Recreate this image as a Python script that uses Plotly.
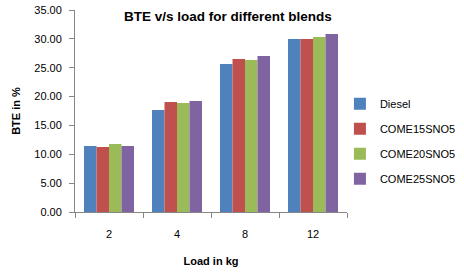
import plotly.graph_objects as go

categories = ["2", "4", "8", "12"]
diesel = [11.44, 17.68, 25.65, 29.98]
come15 = [11.27, 19.06, 26.52, 29.98]
come20 = [11.79, 18.89, 26.34, 30.33]
come25 = [11.44, 19.24, 27.04, 30.85]
series_names = ["Diesel", "COME15SNO5", "COME20SNO5", "COME25SNO5"]
colors = ["#4F81BD", "#C0504D", "#9BBB59", "#8064A2"]

fig = go.Figure()
for i, (name, vals) in enumerate(zip(series_names, [diesel, come15, come20, come25])):
    fig.add_trace(go.Bar(x=categories, y=vals, name=name, marker_color=colors[i],
                         marker_line_width=0, legendgroup=str(i)))

font = "Liberation Sans, Arial, sans-serif"
fig.update_layout(
    width=464, height=273,
    margin=dict(l=75, r=117, t=10, b=61, autoexpand=False),
    paper_bgcolor="white", plot_bgcolor="white",
    barmode="group", bargap=0.265, bargroupgap=0,
    font=dict(family=font, size=11, color="#000000"),
    title=dict(text="<b>BTE v/s load for different blends</b>", x=0.491, xanchor="center",
               y=0.941, yanchor="middle", font=dict(size=13.5, family=font, color="#000000")),
    showlegend=True,
    legend=dict(x=0.974, xref="paper", xanchor="left", y=0.350, yanchor="middle",
                font=dict(size=11, family=font), tracegroupgap=6,
                itemwidth=30, bgcolor="rgba(0,0,0,0)"),
    xaxis=dict(type="category", showline=True, linecolor="#868686", linewidth=1,
               ticks="outside", ticklen=5, tickcolor="#868686", tickson="boundaries",
               showgrid=False, zeroline=False, automargin=False, ticklabelstandoff=12,
               title=dict(text="<b>Load in kg</b>", font=dict(size=11), standoff=18),
               tickfont=dict(size=11)),
    yaxis=dict(range=[0, 35], dtick=5, tickformat=".2f", showline=True, linecolor="#868686",
               linewidth=1, ticks="outside", ticklen=5, tickcolor="#868686",
               showgrid=False, zeroline=False, automargin=False, ticklabelstandoff=5,
               title=dict(text="<b>BTE in %</b>", font=dict(size=11), standoff=11),
               tickfont=dict(size=11)),
)
fig.write_html("out.html", config={"displayModeBar": False},
               post_script="document.body.style.margin='0';")
